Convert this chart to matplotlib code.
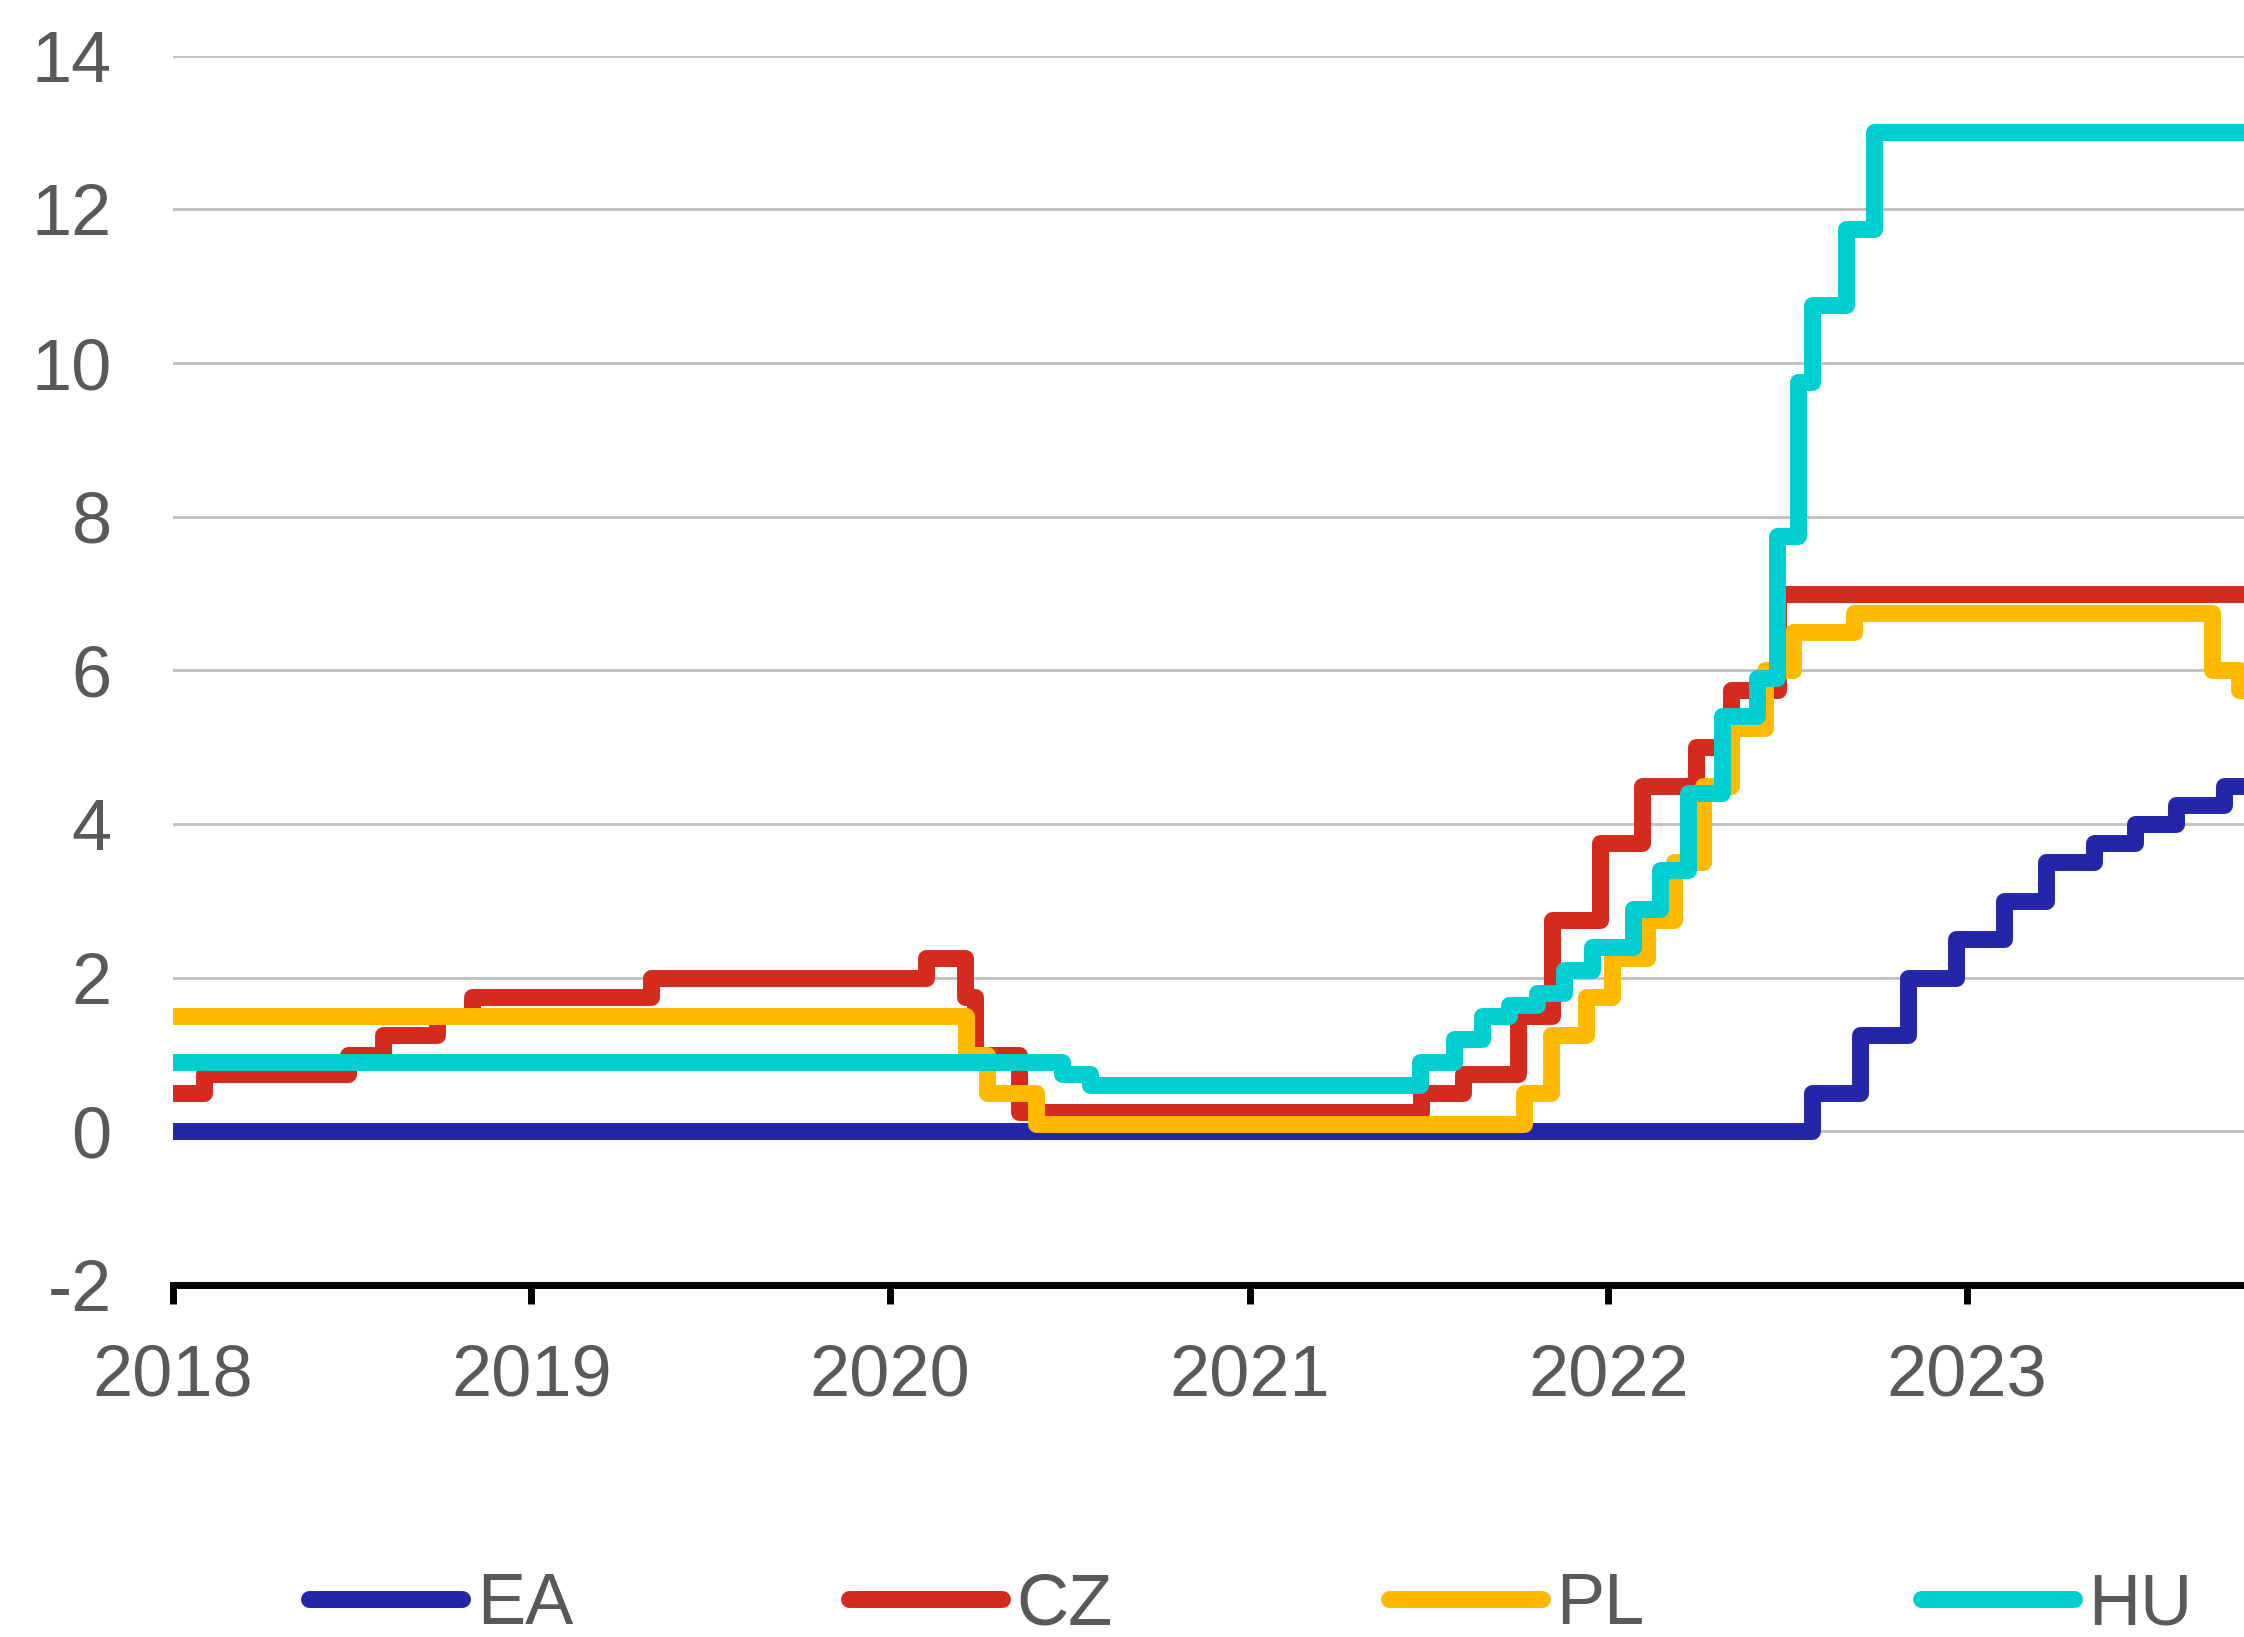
import matplotlib
matplotlib.use("Agg")
import matplotlib.pyplot as plt
import matplotlib.dates as mdates
import pandas as pd

plt.rcParams['font.family'] = ['Liberation Sans', 'DejaVu Sans']
plt.rcParams['axes.unicode_minus'] = False

# Policy rate change dates and new levels (%)
ea_dates = ["2018-01-01", "2022-07-27", "2022-09-14", "2022-11-02", "2022-12-21",
            "2023-02-08", "2023-03-22", "2023-05-10", "2023-06-21", "2023-08-02",
            "2023-09-20", "2023-12-31"]
ea_rates = [0.0, 0.5, 1.25, 2.0, 2.5, 3.0, 3.5, 3.75, 4.0, 4.25, 4.5, 4.5]

cz_dates = ["2018-01-01", "2018-02-02", "2018-06-28", "2018-08-03", "2018-09-27",
            "2018-11-02", "2019-05-03", "2020-02-07", "2020-03-17", "2020-03-27",
            "2020-05-11", "2021-06-24", "2021-08-06", "2021-10-01", "2021-11-05",
            "2021-12-24", "2022-02-04", "2022-03-31", "2022-05-06", "2022-06-23",
            "2023-12-31"]
cz_rates = [0.5, 0.75, 1.0, 1.25, 1.5, 1.75, 2.0, 2.25, 1.75, 1.0,
            0.25, 0.5, 0.75, 1.5, 2.75, 3.75, 4.5, 5.0, 5.75, 7.0, 7.0]

pl_dates = ["2018-01-01", "2020-03-18", "2020-04-09", "2020-05-29", "2021-10-07",
            "2021-11-04", "2021-12-09", "2022-01-05", "2022-02-09", "2022-03-09",
            "2022-04-07", "2022-05-06", "2022-06-09", "2022-07-08", "2022-09-08",
            "2023-09-07", "2023-10-05", "2023-12-31"]
pl_rates = [1.5, 1.0, 0.5, 0.1, 0.5, 1.25, 1.75, 2.25, 2.75, 3.5,
            4.5, 5.25, 6.0, 6.5, 6.75, 6.0, 5.75, 5.75]

hu_dates = ["2018-01-01", "2020-06-24", "2020-07-22", "2021-06-23", "2021-07-28",
            "2021-08-25", "2021-09-22", "2021-10-20", "2021-11-17", "2021-12-15",
            "2022-01-26", "2022-02-23", "2022-03-23", "2022-04-27", "2022-06-01",
            "2022-06-22", "2022-07-13", "2022-07-27", "2022-08-31", "2022-09-28",
            "2023-12-31"]
hu_rates = [0.9, 0.75, 0.6, 0.9, 1.2, 1.5, 1.65, 1.8, 2.1, 2.4,
            2.9, 3.4, 4.4, 5.4, 5.9, 7.75, 9.75, 10.75, 11.75, 13.0, 13.0]

series = [
    ("EA", ea_dates, ea_rates, "#2326A8"),
    ("CZ", cz_dates, cz_rates, "#D52B1E"),
    ("PL", pl_dates, pl_rates, "#FFBA00"),
    ("HU", hu_dates, hu_rates, "#00CED1"),
]

fig = plt.figure(figsize=(11.22, 8.185), dpi=200)
ax = fig.add_axes([0.077, 0.215, 0.923, 0.751])

handles = []
for name, d, v, c in series:
    ln, = ax.step(pd.to_datetime(d), v, where="post", color=c, lw=6.1,
                  solid_joinstyle="round", solid_capstyle="round", label=name)
    handles.append(ln)

ax.set_xlim(pd.Timestamp("2018-01-01"), pd.Timestamp("2023-10-10"))
ax.set_ylim(-2, 14)
ax.set_yticks(range(-2, 15, 2))
ax.yaxis.grid(True, color="#BFBFBF", lw=1.0)
ax.set_axisbelow(True)

ax.xaxis.set_major_locator(mdates.YearLocator())
ax.xaxis.set_major_formatter(mdates.DateFormatter("%Y"))

for s in ["left", "right", "top"]:
    ax.spines[s].set_visible(False)
ax.spines["bottom"].set_color("black")
ax.spines["bottom"].set_linewidth(2.5)
ax.spines["bottom"].set_zorder(5)

ax.tick_params(axis="x", direction="out", length=7, width=2.5, color="black",
               labelsize=26, labelcolor="#595959", pad=14)
ax.tick_params(axis="y", length=0, labelsize=26, labelcolor="#595959", pad=22)

leg = fig.legend(handles=handles, loc="center", bbox_to_anchor=(0.5574, 0.019),
                 ncol=4, frameon=False, fontsize=26, handlelength=2.12,
                 handletextpad=0.2, columnspacing=3.82, labelcolor="#595959")

fig.savefig("out.png", dpi=200)
